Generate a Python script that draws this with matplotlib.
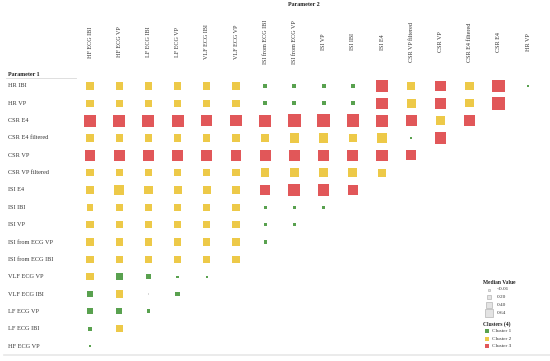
import matplotlib
matplotlib.use("Agg")
import matplotlib.pyplot as plt
import matplotlib.transforms as mtransforms
from matplotlib.lines import Line2D

# ---------------- data ----------------
row_labels = ["HR IBI", "HR VP", "CSR E4", "CSR E4 filtered", "CSR VP",
              "CSR VP filtered", "ISI E4", "ISI IBI", "ISI VP",
              "ISI from ECG VP", "ISI from ECG IBI", "VLF ECG VP",
              "VLF ECG IBI", "LF ECG VP", "LF ECG IBI", "HF ECG VP"]

col_labels = ["HF ECG IBI", "HF ECG VP", "LF ECG IBI", "LF ECG VP",
              "VLF ECG IBI", "VLF ECG VP", "ISI from ECG IBI",
              "ISI from ECG VP", "ISI VP", "ISI IBI", "ISI E4",
              "CSR VP filtered", "CSR VP", "CSR E4 filtered", "CSR E4", "HR VP"]

median_values = [
    [0.63, 0.63, 0.63, 0.63, 0.63, 0.63, 0.19, 0.19, 0.19, 0.19, 1.43, 0.76, 1.35, 0.89, 1.91, 0.05],
    [0.63, 0.53, 0.63, 0.53, 0.63, 0.63, 0.19, 0.19, 0.19, 0.19, 1.43, 0.89, 1.43, 0.81, 1.91],
    [1.62, 1.62, 1.62, 1.70, 1.43, 1.51, 1.70, 2.09, 2.09, 1.79, 1.62, 1.35, 0.89, 1.43],
    [0.63, 0.63, 0.63, 0.63, 0.63, 0.63, 0.76, 1.02, 0.96, 0.76, 0.96, 0.05, 1.43],
    [1.30, 1.30, 1.30, 1.30, 1.30, 1.30, 1.30, 1.35, 1.35, 1.43, 1.43, 1.18],
    [0.63, 0.63, 0.63, 0.58, 0.63, 0.58, 0.81, 0.89, 0.89, 0.89, 0.76],
    [0.76, 1.02, 0.81, 0.76, 0.76, 0.89, 1.18, 1.62, 1.43, 1.18],
    [0.53, 0.58, 0.58, 0.53, 0.58, 0.58, 0.13, 0.13, 0.13],
    [0.63, 0.63, 0.58, 0.58, 0.63, 0.63, 0.13, 0.13],
    [0.63, 0.63, 0.63, 0.63, 0.63, 0.63, 0.13],
    [0.63, 0.63, 0.58, 0.63, 0.63, 0.63],
    [0.63, 0.53, 0.26, 0.06, 0.06],
    [0.53, 0.63, 0.02, 0.26],
    [0.43, 0.43, 0.16],
    [0.19, 0.53],
    [0.06],
]

clusters = [
    [2, 2, 2, 2, 2, 2, 1, 1, 1, 1, 3, 2, 3, 2, 3, 1],
    [2, 2, 2, 2, 2, 2, 1, 1, 1, 1, 3, 2, 3, 2, 3],
    [3, 3, 3, 3, 3, 3, 3, 3, 3, 3, 3, 3, 2, 3],
    [2, 2, 2, 2, 2, 2, 2, 2, 2, 2, 2, 1, 3],
    [3, 3, 3, 3, 3, 3, 3, 3, 3, 3, 3, 3],
    [2, 2, 2, 2, 2, 2, 2, 2, 2, 2, 2],
    [2, 2, 2, 2, 2, 2, 3, 3, 3, 3],
    [2, 2, 2, 2, 2, 2, 1, 1, 1],
    [2, 2, 2, 2, 2, 2, 1, 1],
    [2, 2, 2, 2, 2, 2, 1],
    [2, 2, 2, 2, 2, 2],
    [2, 1, 1, 1, 1],
    [1, 2, 0, 1],
    [1, 1, 1],
    [1, 2],
    [1],
]

legend_sizes = [0.01, 0.20, 0.40, 0.64]
legend_size_labels = ["<0.01", "0.20", "0.40", "0.64"]
cluster_names = ["Cluster 1", "Cluster 2", "Cluster 3"]

# ---------------- style ----------------
cluster_colors = {0: "#d9d9d9", 1: "#59A14F", 2: "#EDC948", 3: "#E15759"}
SIZE_K = 45.0  # points^2 per unit median value
FONT = "Liberation Serif"
W, H = 550, 361

fig = plt.figure(figsize=(W / 100, H / 100), dpi=100)
ax = fig.add_axes([75.4 / W, 1 - 354.7 / H, 467.2 / W, 277.4 / H])
ax.set_xlim(-0.5, len(col_labels) - 0.5)
ax.set_ylim(len(row_labels) - 0.5, -0.5)
ax.axis("off")

xs, ys, ss, cs = [], [], [], []
for r, (vals, cls) in enumerate(zip(median_values, clusters)):
    for c, (v, k) in enumerate(zip(vals, cls)):
        xs.append(c)
        ys.append(r)
        ss.append(SIZE_K * v)
        cs.append(cluster_colors[k])
ax.scatter(xs, ys, s=ss, c=cs, marker="s", linewidths=0)

# row labels
tr_rows = mtransforms.blended_transform_factory(fig.transFigure, ax.transData)
for r, lab in enumerate(row_labels):
    ax.text(8 / W, r, lab, transform=tr_rows, ha="left", va="center",
            fontsize=4.5, family=FONT, color="#333333")

# column labels
tr_cols = mtransforms.blended_transform_factory(ax.transData, fig.transFigure)
for c, lab in enumerate(col_labels):
    ax.text(c, 1 - 42 / H, lab, transform=tr_cols, rotation=90,
            ha="center", va="center", fontsize=4.4, family=FONT, color="#333333")

# headers
fig.text(304 / W, 1 - 4.5 / H, "Parameter 2", ha="center", va="center",
         fontsize=4.3, family=FONT, weight="bold", color="#222222")
fig.text(8 / W, 1 - 74 / H, "Parameter 1", ha="left", va="center",
         fontsize=4.3, family=FONT, weight="bold", color="#222222")
fig.add_artist(Line2D([6 / W, 76 / W], [1 - 77.5 / H, 1 - 77.5 / H],
                      transform=fig.transFigure, color="#d9d9d9", lw=0.6))
fig.add_artist(Line2D([4 / W, 1.0], [1 - 355 / H, 1 - 355 / H],
                      transform=fig.transFigure, color="#e8e8e8", lw=1.2))

# legend: median value
lax = fig.add_axes([0, 0, 1, 1], facecolor="none")
lax.set_xlim(0, W)
lax.set_ylim(H, 0)
lax.axis("off")
lax.text(483, 283, "Median Value", fontsize=4.0, family=FONT, weight="bold",
         va="center", ha="left", color="#222222")
for i, (v, lab) in enumerate(zip(legend_sizes, legend_size_labels)):
    y = 289.5 + i * 7.7
    lax.scatter([489], [y], s=SIZE_K * v * 1.25, marker="s", facecolor="#e3e3e3",
                edgecolor="#a8a8a8", linewidths=0.4)
    lax.text(497, y, lab, fontsize=3.8, family=FONT, va="center", ha="left",
             color="#333333")

lax.text(483, 324, "Clusters (4)", fontsize=4.0, family=FONT, weight="bold",
         va="center", ha="left", color="#222222")
for i, name in enumerate(cluster_names):
    y = 331 + i * 7.5
    lax.scatter([487], [y], s=12, marker="s", color=cluster_colors[i + 1],
                linewidths=0)
    lax.text(492, y, name, fontsize=3.8, family=FONT, va="center", ha="left",
             color="#333333")

fig.savefig("out.png", dpi=100)
